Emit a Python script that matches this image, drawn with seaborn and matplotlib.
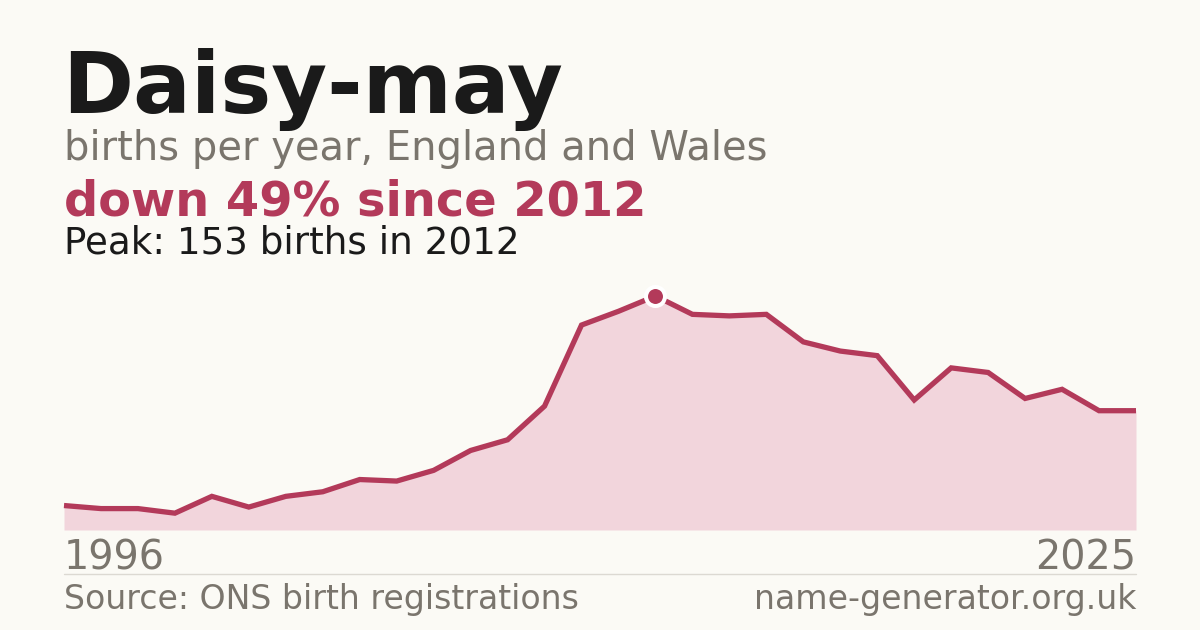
import pandas as pd
import seaborn as sns
import matplotlib.pyplot as plt

# births per year for the name
years = list(range(1996, 2026))
births = [16, 14, 14, 11, 22, 15, 22, 25, 33, 32,
          39, 52, 59, 81, 134, 143, 153, 141, 140, 141,
          123, 117, 114, 85, 106, 103, 86, 92, 78, 78]

title = "Daisy-may"
subtitle = "births per year, England and Wales"
change_text = "down 49% since 2012"
peak_text = "Peak: 153 births in 2012"
source_text = "Source: ONS birth registrations"
site_text = "name-generator.org.uk"

BG = "#fbfaf5"
CRIMSON = "#b33a5a"
FILL = "#f2d5dc"
GRAY = "#7a756d"
DARK = "#1a1a1a"

sns.set_theme(style="white")
plt.rcParams['font.family'] = ['DejaVu Sans']

df = pd.DataFrame({"year": years, "births": births})
peak_idx = df["births"].idxmax()

W, H = 1200, 630
fig = plt.figure(figsize=(12, 6.3), dpi=100, facecolor=BG)

# plot area: x 64..1136 px, bottom 530 px, top 280 px
ax = fig.add_axes([64 / W, 1 - 530 / H, (1136 - 64) / W, 250 / H])
ax.set_facecolor(BG)
ymax = df["births"].max() * 250 / 234
ax.fill_between(df["year"], 0, df["births"], color=FILL, linewidth=0)
sns.lineplot(data=df, x="year", y="births", ax=ax, color=CRIMSON,
             linewidth=3.8, solid_joinstyle="miter", solid_capstyle="butt",
             clip_on=False)
ax.plot(df.loc[peak_idx, "year"], df.loc[peak_idx, "births"], "o",
        color=CRIMSON, markersize=13.7, markeredgecolor="white",
        markeredgewidth=2.9, clip_on=False, zorder=5)
ax.set_xlim(years[0], years[-1])
ax.set_ylim(0, ymax)
ax.axis("off")

# headline text
fig.text(62 / W, 1 - 113 / H, title, fontsize=61.7, fontweight="bold",
         color=DARK, va="baseline")
fig.text(64 / W, 1 - 160 / H, subtitle, fontsize=28.8, color=GRAY,
         va="baseline")
fig.text(64 / W, 1 - 215 / H, change_text, fontsize=34.5, fontweight="bold",
         color=CRIMSON, va="baseline")
fig.text(64 / W, 1 - 253 / H, peak_text, fontsize=26.8, color=DARK,
         va="baseline")

# year labels under the area
fig.text(64 / W, 1 - 570 / H, str(years[0]), fontsize=28.6, color=GRAY,
         va="baseline", ha="left")
fig.text(1136 / W, 1 - 570 / H, str(years[-1]), fontsize=28.6, color=GRAY,
         va="baseline", ha="right")

# divider and footer
fig.add_artist(plt.Line2D([64 / W, 1136 / W], [1 - 574 / H, 1 - 574 / H],
                          color="#dcd9d2", linewidth=1))
fig.text(64 / W, 1 - 609 / H, source_text, fontsize=23.9, color=GRAY,
         va="baseline", ha="left")
fig.text(1136 / W, 1 - 609 / H, site_text, fontsize=23.9, color=GRAY,
         va="baseline", ha="right")

fig.savefig("out.png", dpi=100, facecolor=BG)
